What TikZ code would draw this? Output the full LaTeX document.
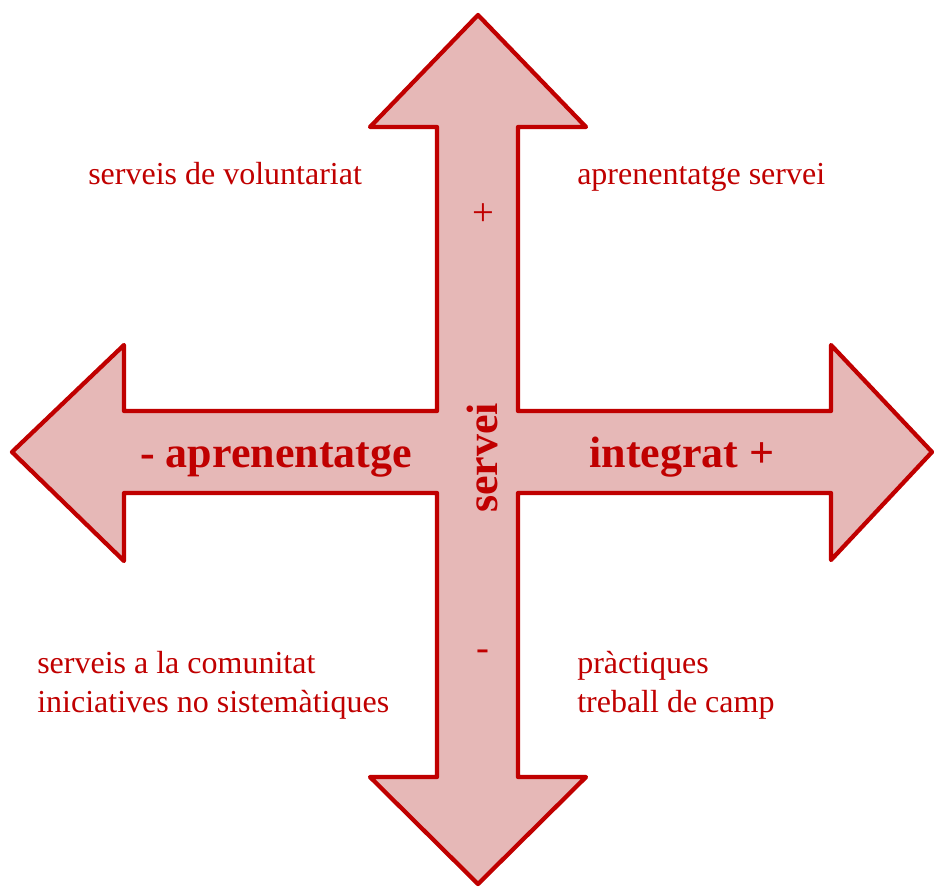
\documentclass[tikz,border=0pt]{standalone}
\usepackage{fontspec}
\setmainfont{Liberation Serif}
\definecolor{crossred}{RGB}{192,0,0}
\definecolor{crossfill}{RGB}{230,184,183}
\begin{document}
\begin{tikzpicture}[x=0.75pt,y=-0.75pt,
        cross/.style={draw=crossred,fill=crossfill,line width=3.2pt,line join=round},
        quadrant/.style={text=crossred,font=\fontsize{24}{29}\selectfont,inner sep=0pt,anchor=base west},
        axislabel/.style={text=crossred,font=\fontsize{33}{40}\selectfont\bfseries,inner sep=0pt},
        sign/.style={text=crossred,font=\fontsize{29}{35}\selectfont,inner sep=0pt}]
    \useasboundingbox (0,0) rectangle (934,886);
    % the four-way arrow
    \draw[cross] (478,15) -- (586,127) -- (518,127) -- (518,411) -- (831,411)
        -- (831,345) -- (932,452) -- (831,560) -- (831,493) -- (518,493)
        -- (518,777) -- (586,777) -- (478,884) -- (370,777) -- (437,777)
        -- (437,493) -- (124,493) -- (124,561) -- (12,452) -- (124,345)
        -- (124,411) -- (437,411) -- (437,127) -- (370,127) -- cycle;
    % axis labels
    \node[axislabel,anchor=base] (learning) at (276,467) {- aprenentatge};
    \node[axislabel,anchor=base] (integrated) at (682,467) {integrat +};
    \node[axislabel,rotate=90] (service) at (482,458) {servei};
    \node[sign] (plus) at (483,215) {+};
    \node[sign] (minus) at (483,655) {-};
    % quadrants
    \node[quadrant] (volunteer) at (88,184) {serveis de voluntariat};
    \node[quadrant] (servicelearning) at (577,184) {aprenentatge servei};
    \node[quadrant] (community) at (37,673) {serveis a la comunitat};
    \node[quadrant] (initiatives) at (37,712) {iniciatives no sistemàtiques};
    \node[quadrant] (practices) at (577,673) {pràctiques};
    \node[quadrant] (fieldwork) at (577,712) {treball de camp};
\end{tikzpicture}
\end{document}
